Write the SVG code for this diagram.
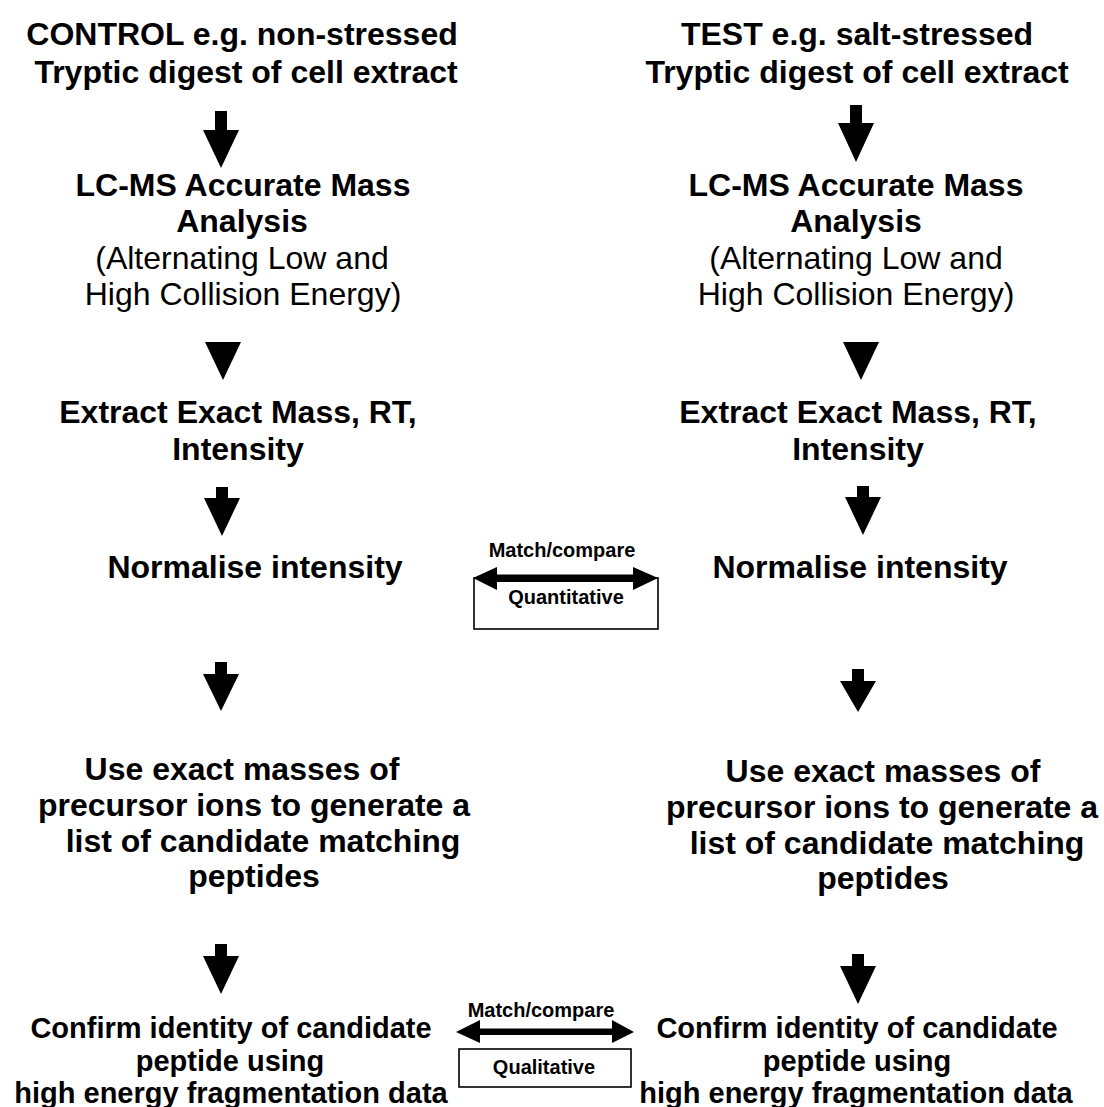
<svg xmlns="http://www.w3.org/2000/svg" width="1104" height="1107" viewBox="0 0 1104 1107">
  <style>
    text { font-family: "Liberation Sans", Arial, sans-serif; fill: #000; text-anchor: middle; }
    .b { font-weight: bold; font-size: 32px; }
    .r { font-weight: normal; font-size: 32px; }
    .s { font-weight: bold; font-size: 29px; }
    .lbl { font-weight: bold; font-size: 20px; }
    .blk { fill: #000; stroke: none; }
    .box { fill: #fff; stroke: #000; stroke-width: 1.6; }
  </style>
  <rect width="1104" height="1107" fill="#fff"/>

  <!-- left column: control sample -->
  <g id="control-sample">
    <text class="b" x="242" y="45">CONTROL e.g. non-stressed</text>
    <text class="b" x="246" y="83">Tryptic digest of cell extract</text>
  </g>
  <g id="control-lcms">
    <text class="b" x="243" y="196">LC-MS Accurate Mass</text>
    <text class="b" x="242" y="232">Analysis</text>
    <text class="r" x="242" y="269">(Alternating Low and</text>
    <text class="r" x="243" y="305">High Collision Energy)</text>
  </g>
  <g id="control-extract">
    <text class="b" x="238" y="423">Extract Exact Mass, RT,</text>
    <text class="b" x="238" y="460">Intensity</text>
  </g>
  <g id="control-normalise">
    <text class="b" x="255" y="578">Normalise intensity</text>
  </g>
  <g id="control-candidates">
    <text class="b" x="242" y="780">Use exact masses of</text>
    <text class="b" x="254" y="816">precursor ions to generate a</text>
    <text class="b" x="263" y="852">list of candidate matching</text>
    <text class="b" x="254" y="887">peptides</text>
  </g>
  <g id="control-confirm">
    <text class="s" x="231" y="1038">Confirm identity of candidate</text>
    <text class="s" x="230" y="1071">peptide using</text>
    <text class="s" x="231" y="1103">high energy fragmentation data</text>
  </g>

  <!-- right column: test sample -->
  <g id="test-sample">
    <text class="b" x="857" y="45">TEST e.g. salt-stressed</text>
    <text class="b" x="857" y="83">Tryptic digest of cell extract</text>
  </g>
  <g id="test-lcms">
    <text class="b" x="856" y="196">LC-MS Accurate Mass</text>
    <text class="b" x="856" y="232">Analysis</text>
    <text class="r" x="856" y="269">(Alternating Low and</text>
    <text class="r" x="856" y="305">High Collision Energy)</text>
  </g>
  <g id="test-extract">
    <text class="b" x="858" y="423">Extract Exact Mass, RT,</text>
    <text class="b" x="858" y="460">Intensity</text>
  </g>
  <g id="test-normalise">
    <text class="b" x="860" y="578">Normalise intensity</text>
  </g>
  <g id="test-candidates">
    <text class="b" x="883" y="782">Use exact masses of</text>
    <text class="b" x="882" y="818">precursor ions to generate a</text>
    <text class="b" x="887" y="854">list of candidate matching</text>
    <text class="b" x="883" y="889">peptides</text>
  </g>
  <g id="test-confirm">
    <text class="s" x="857" y="1038">Confirm identity of candidate</text>
    <text class="s" x="857" y="1071">peptide using</text>
    <text class="s" x="856" y="1103">high energy fragmentation data</text>
  </g>

  <!-- comparison boxes -->
  <g id="quantitative">
    <rect class="box" x="474" y="578" width="184" height="51"/>
    <text class="lbl" x="566" y="604">Quantitative</text>
  </g>
  <g id="qualitative">
    <rect class="box" x="459" y="1049" width="172" height="38"/>
    <text class="lbl" x="544" y="1074">Qualitative</text>
  </g>

  <!-- connectors -->
  <g id="connectors">
    <!-- left column block arrows -->
    <polygon class="blk" points="215,111 227,111 227,130 239,130 221,168 203,130 215,130"/>
    <polygon class="blk" points="205,342 241,342 223,380"/>
    <polygon class="blk" points="216,487 228,487 228,498 240,498 222,536 204,498 216,498"/>
    <polygon class="blk" points="215,662 227,662 227,674 239,674 221,711 203,674 215,674"/>
    <polygon class="blk" points="215,944 227,944 227,956 239,956 221,994 203,956 215,956"/>
    <!-- right column block arrows -->
    <polygon class="blk" points="850,105 862,105 862,123 874,123 856,162 838,123 850,123"/>
    <polygon class="blk" points="843,342 879,342 861,380"/>
    <polygon class="blk" points="857,486 869,486 869,497 881,497 863,535 845,497 857,497"/>
    <polygon class="blk" points="852,669 864,669 864,681 876,681 858,712 840,681 852,681"/>
    <polygon class="blk" points="852,954 864,954 864,966 876,966 858,1004 840,966 852,966"/>

    <!-- quantitative match/compare -->
    <g id="match-quant">
      <text class="lbl" x="562" y="557">Match/compare</text>
      <polygon class="blk" points="473,578 497,567 497,574.5 633,574.5 633,567 658,578 633,590 633,582 497,582 497,590"/>
    </g>
    <!-- qualitative match/compare -->
    <g id="match-qual">
      <text class="lbl" x="541" y="1017">Match/compare</text>
      <polygon class="blk" points="456,1032 480,1020 480,1028.5 612,1028.5 612,1020 634,1032 612,1043 612,1035 480,1035 480,1043"/>
    </g>
  </g>
</svg>
